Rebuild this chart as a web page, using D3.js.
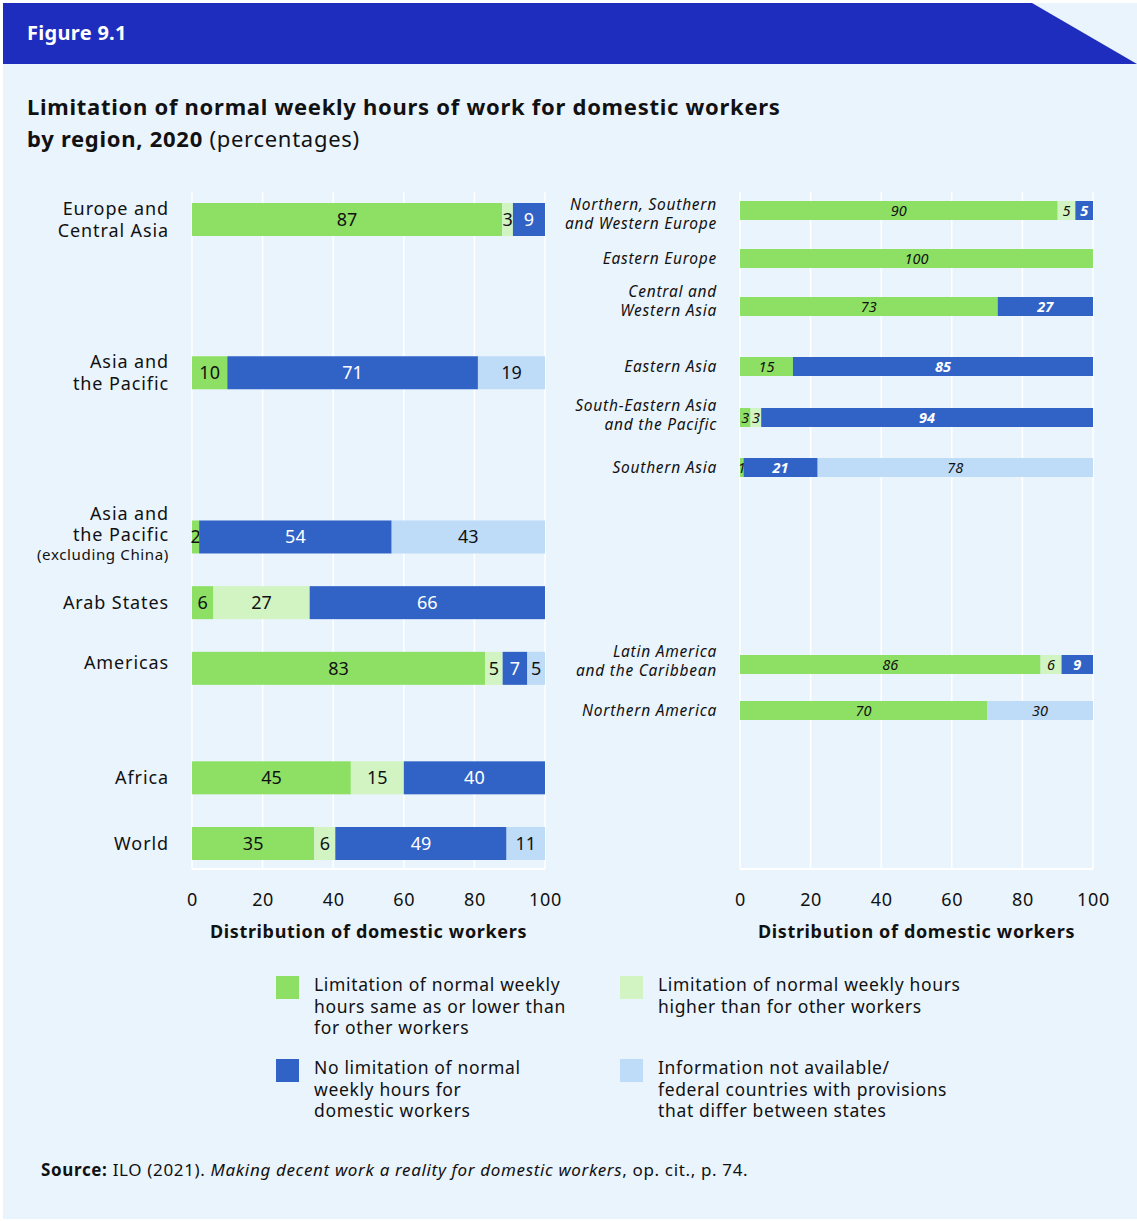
<!DOCTYPE html>
<html><head><meta charset="utf-8">
<script src="https://cdn.jsdelivr.net/npm/d3@7"></script>
<style>
body{margin:0;background:#fff;}
svg{display:block;font-family:"Noto Sans",sans-serif;letter-spacing:0.65px;}
</style></head><body>
<svg id="c" width="1137" height="1221"></svg>
<script>
// ---------- data ----------
const seriesKeys = ["same", "higher", "none", "na"];
const seriesLabels = [
  "Limitation of normal weekly\nhours same as or lower than\nfor other workers",
  "Limitation of normal weekly hours\nhigher than for other workers",
  "No limitation of normal\nweekly hours for\ndomestic workers",
  "Information not available/\nfederal countries with provisions\nthat differ between states"
];
const leftCategories = ["Europe and\nCentral Asia", "Asia and\nthe Pacific", "Asia and\nthe Pacific\n(excluding China)", "Arab States", "Americas", "Africa", "World"];
const leftSame   = [87, 10, 2, 6, 83, 45, 35];
const leftHigher = [3, 0, 0, 27, 5, 15, 6];
const leftNone   = [9, 71, 54, 66, 7, 40, 49];
const leftNA     = [0, 19, 43, 0, 5, 0, 11];

const rightCategories = ["Northern, Southern\nand Western Europe", "Eastern Europe", "Central and\nWestern Asia", "Eastern Asia", "South-Eastern Asia\nand the Pacific", "Southern Asia", "Latin America\nand the Caribbean", "Northern America"];
const rightSame   = [90, 100, 73, 15, 3, 1, 86, 70];
const rightHigher = [5, 0, 0, 0, 3, 0, 6, 0];
const rightNone   = [5, 0, 27, 85, 94, 21, 9, 0];
const rightNA     = [0, 0, 0, 0, 0, 78, 0, 30];

const tickValues = [0, 20, 40, 60, 80, 100];
const axisTitle = "Distribution of domestic workers";

// ---------- layout (row slots and label nudges) ----------
const leftSlots  = [0, 14, 29, 35, 41, 51, 57];
const rightSlots = [0, 4.8, 9.6, 15.6, 20.7, 25.7, 45.4, 50];
const leftLabelNudge  = [0, 0, -2, 0, -6, 0, 0];
const rightLabelNudge = [3.5, 0, -5.5, 0, -2.5, 0, -3.5, 0];

const colors = {same:"#8DE064", higher:"#D1F4C2", none:"#3163C7", na:"#BEDBF7"};
const textOn = {same:"#111", higher:"#111", none:"#fff", na:"#111"};

const svg = d3.select("#c");
// background
svg.append("rect").attr("x",3).attr("y",3).attr("width",1134).attr("height",1216).attr("fill","#EAF4FD");
svg.append("path").attr("d","M3,3 L1032,3 L1137,64 L3,64 Z").attr("fill","#1F2DBE");
svg.append("text").attr("x",27).attr("y",40).attr("fill","#fff").attr("font-size",20).attr("font-weight",700).attr("letter-spacing","0.3px").text("Figure 9.1");
svg.append("text").attr("x",27).attr("y",115).attr("fill","#111").attr("font-size",22).attr("font-weight",700).attr("letter-spacing","0.72px")
  .text("Limitation of normal weekly hours of work for domestic workers");
const t2 = svg.append("text").attr("x",27).attr("y",147).attr("fill","#111").attr("font-size",22).attr("letter-spacing","0.72px");
t2.append("tspan").attr("font-weight",700).text("by region, 2020 ");
t2.append("tspan").text("(percentages)");

function buildRows(cats, a, b, c, d){
  return cats.map((cat,i)=>({cat, same:a[i], higher:b[i], none:c[i], na:d[i]}));
}

function drawPanel(opts){
  const {cats, rows, slots, nudge, x0, x1, yTop, yBottom, yFirst, yLast, barH, italic, labelSize, labelLS, lineH, valueSize, labelX} = opts;
  const g = svg.append("g");
  const x = d3.scaleLinear().domain([0,100]).range([x0,x1]);
  const y = d3.scaleLinear().domain([0, d3.max(slots)]).range([yFirst, yLast]);
  // grid
  g.selectAll("line.grid").data(tickValues).join("line")
    .attr("x1",d=>x(d)).attr("x2",d=>x(d)).attr("y1",yTop).attr("y2",yBottom)
    .attr("stroke","#fff").attr("stroke-width",1.5);
  g.append("line").attr("x1",x(0)).attr("x2",x(100)).attr("y1",yBottom).attr("y2",yBottom).attr("stroke","#fff").attr("stroke-width",2);

  const stack = d3.stack().keys(seriesKeys).offset(d3.stackOffsetExpand);
  const series = stack(rows);
  series.forEach(s=>{
    const key = s.key;
    const sg = g.append("g");
    const segs = s.map((d,i)=>({d,i})).filter(o=>o.d.data[key]>0);
    sg.selectAll("rect").data(segs).join("rect")
      .attr("x",o=>x(o.d[0]*100)).attr("width",o=>x(o.d[1]*100)-x(o.d[0]*100))
      .attr("y",o=>y(slots[o.i])-barH/2).attr("height",barH)
      .attr("fill",colors[key]);
    sg.selectAll("text").data(segs).join("text")
      .attr("x",o=>(x(o.d[0]*100)+x(o.d[1]*100))/2).attr("y",o=>y(slots[o.i]))
      .attr("dy","0.35em").attr("text-anchor","middle").attr("letter-spacing","0px")
      .attr("font-size",valueSize).attr("fill",textOn[key])
      .attr("font-style",italic?"italic":null)
      .attr("font-weight",(italic && key==="none")?700:null)
      .text(o=>o.d.data[key]);
  });
  // category labels
  cats.forEach((cat,i)=>{
    const lines = cat.split("\n");
    const cy = y(slots[i]) + nudge[i];
    const t = g.append("text").attr("text-anchor","end").attr("fill","#111")
      .attr("font-size",labelSize).attr("letter-spacing",labelLS+"px").attr("font-style",italic?"italic":null);
    lines.forEach((ln,j)=>{
      const small = ln.startsWith("(");
      t.append("tspan").attr("x",labelX)
        .attr("y", cy + (j-(lines.length-1)/2)*lineH - (small?2:0))
        .attr("dy","0.35em").attr("font-size", small?labelSize*0.84:null)
        .attr("letter-spacing", small?"0.6px":null).text(ln);
    });
  });
  // axis
  const ax = g.append("g").attr("transform",`translate(0,${yBottom+31})`)
    .call(d3.axisBottom(x).tickValues(tickValues).tickSize(0).tickPadding(0));
  ax.select(".domain").remove();
  ax.selectAll("text").attr("font-size",18).attr("fill","#111").attr("font-family","Noto Sans").attr("dy","0.35em").attr("y",0);
  g.append("text").attr("x",(x0+x1)/2).attr("y",yBottom+63).attr("dy","0.35em").attr("text-anchor","middle")
    .attr("font-size",18).attr("font-weight",700).attr("fill","#111").text(axisTitle);
}

drawPanel({cats:leftCategories, rows:buildRows(leftCategories,leftSame,leftHigher,leftNone,leftNA), slots:leftSlots, nudge:leftLabelNudge,
  x0:192, x1:545, yTop:192, yBottom:869, yFirst:219.5, yLast:843.5, barH:33, italic:false, labelSize:18, labelLS:0.9, lineH:21.6, valueSize:18, labelX:169});
drawPanel({cats:rightCategories, rows:buildRows(rightCategories,rightSame,rightHigher,rightNone,rightNA), slots:rightSlots, nudge:rightLabelNudge,
  x0:740, x1:1093, yTop:192, yBottom:869, yFirst:210.5, yLast:710.5, barH:19, italic:true, labelSize:15.5, labelLS:0.75, lineH:19, valueSize:14.5, labelX:717});

// legend
const legendPos = [[276,976],[620,976],[276,1059],[620,1059]];
seriesKeys.forEach((k,i)=>{
  const [lx,ly] = legendPos[i];
  svg.append("rect").attr("x",lx).attr("y",ly).attr("width",23).attr("height",23).attr("fill",colors[k]);
  const t = svg.append("text").attr("font-size",17.5).attr("fill","#111");
  seriesLabels[i].split("\n").forEach((ln,j)=>{
    t.append("tspan").attr("x",lx+38).attr("y",ly+9+j*21.5).attr("dy","0.35em").text(ln);
  });
});

// source
const src = svg.append("text").attr("x",41).attr("y",1176).attr("font-size",17).attr("fill","#111");
src.append("tspan").attr("font-weight",700).text("Source:");
src.append("tspan").text(" ILO (2021). ");
src.append("tspan").attr("font-style","italic").text("Making decent work a reality for domestic workers");
src.append("tspan").text(", op. cit., p. 74.");
</script></body></html>
